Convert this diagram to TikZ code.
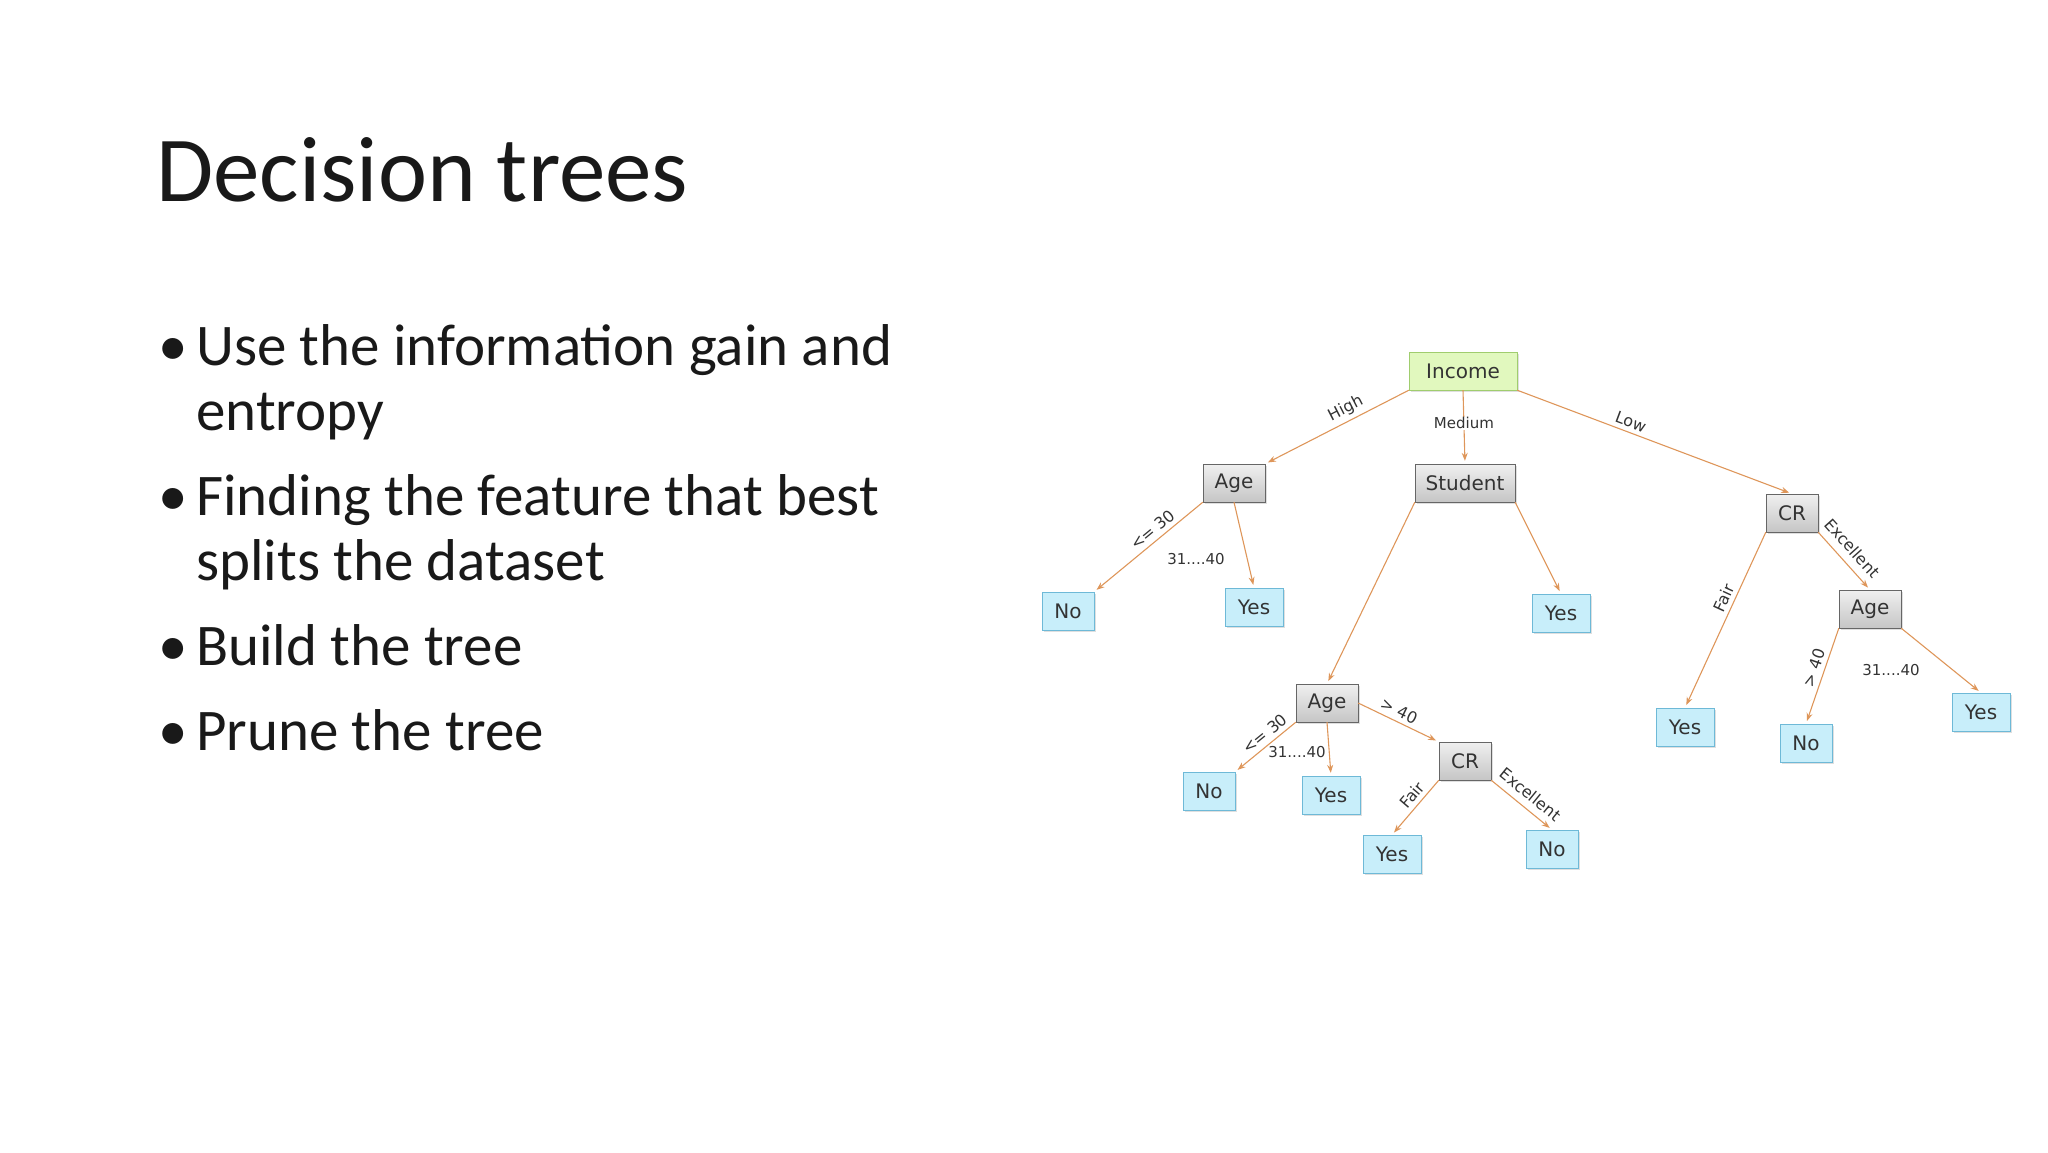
\documentclass[tikz,border=0pt]{standalone}
\usepackage{fontspec}
\setmainfont{Carlito}
\newfontfamily\vfont{DejaVu Sans}
\usetikzlibrary{arrows.meta,shadows}
\definecolor{edgec}{RGB}{222,150,90}
\definecolor{leaff}{RGB}{200,238,250}
\definecolor{leafd}{RGB}{110,185,215}
\definecolor{rootf}{RGB}{225,248,190}
\definecolor{rootd}{RGB}{160,205,110}
\tikzset{
  box/.style={draw, minimum height=38pt, inner sep=5pt, font=\vfont\fontsize{20}{22}\selectfont, text=black!80, drop shadow={shadow xshift=2pt,shadow yshift=-2pt,opacity=.25}},
  inner/.style={box, draw=black!60, top color=gray!12, bottom color=gray!45, minimum width=62pt},
  leaf/.style={box, draw=leafd, fill=leaff, minimum width=52pt},
  rootbox/.style={box, draw=rootd, fill=rootf, minimum width=108pt},
  edge/.style={draw=edgec, line width=1.1pt, -{Stealth[length=8pt,width=6pt]}, shorten >=3pt},
  el/.style={font=\vfont\fontsize{16}{18}\selectfont, text=black!80, sloped, above, inner sep=4pt},
  elf/.style={font=\vfont\fontsize{15}{17}\selectfont, text=black!80, inner sep=1pt},
  bul/.style={anchor=base west, inner sep=0pt}
}
\begin{document}
\begin{tikzpicture}[x=1pt,y=-1pt]
\useasboundingbox (0,0) rectangle (2048,1152);
\node[anchor=west, inner sep=0pt, font=\fontsize{93}{100}\selectfont, text=black!90] (title) at (156,170) {Decision trees};
\begin{scope}[font=\fontsize{59}{66}\selectfont, text=black!90]
\node[bul] (b1) at (158,365) {\textbullet};
\node[bul] (t1) at (196,365) {Use the information gain and};
\node[bul] (t1b) at (196,430) {entropy};
\node[bul] (b2) at (158,515) {\textbullet};
\node[bul] (t2) at (196,515) {Finding the feature that best};
\node[bul] (t2b) at (196,580) {splits the dataset};
\node[bul] (b3) at (158,665) {\textbullet};
\node[bul] (t3) at (196,665) {Build the tree};
\node[bul] (b4) at (158,750) {\textbullet};
\node[bul] (t4) at (196,750) {Prune the tree};
\end{scope}

\node[rootbox] (inc) at (1463,371) {Income};
\node[inner] (age1) at (1234,483) {Age};
\node[inner, minimum width=100pt] (stu) at (1465,483) {Student};
\node[inner, minimum width=52pt] (cr1) at (1792,513) {CR};
\node[leaf] (no1) at (1068,611) {No};
\node[leaf, minimum width=58pt] (yes1) at (1254,607) {Yes};
\node[leaf, minimum width=58pt] (yes2) at (1561,613) {Yes};
\node[inner] (age2) at (1327,703) {Age};
\node[inner, minimum width=52pt] (cr2) at (1465,761) {CR};
\node[leaf] (no2) at (1209,791) {No};
\node[leaf, minimum width=58pt] (yes3) at (1331,795) {Yes};
\node[leaf, minimum width=58pt] (yes4) at (1392,854) {Yes};
\node[leaf] (no3) at (1552,849) {No};
\node[inner] (age3) at (1870,609) {Age};
\node[leaf, minimum width=58pt] (yes5) at (1685,727) {Yes};
\node[leaf] (no4) at (1806,743) {No};
\node[leaf, minimum width=58pt] (yes6) at (1981,712) {Yes};

\draw[edge] (inc.south west) -- node[el, pos=.4] {High} (age1.north east);
\draw[edge] (inc.south) -- node[elf, fill=white, pos=.45] {Medium} (stu.north);
\draw[edge] (inc.south east) -- node[el, pos=.4] {Low} (cr1.north);
\draw[edge] (age1.south west) -- node[el, pos=.4] {<= 30} (no1.north east);
\draw[edge] (age1.south) -- (yes1.north);
\node[elf] (l1) at (1196,559) {31....40};
\draw[edge] (stu.south west) -- (age2.north);
\draw[edge] (stu.south east) -- (yes2.north);
\draw[edge] (cr1.south west) -- node[el, pos=.4] {Fair} (yes5.north);
\draw[edge] (cr1.south east) -- node[el, pos=.45, inner sep=8pt] {Excellent} (age3.north);
\draw[edge] (age3.south west) -- node[el, pos=.45] {> 40} (no4.north);
\draw[edge] (age3.south east) -- (yes6.north);
\node[elf] (l2) at (1891,670) {31....40};
\draw[edge] (age2.south west) -- node[el, pos=.4] {<= 30} (no2.north east);
\draw[edge] (age2.south) -- (yes3.north);
\node[elf] (l3) at (1297,752) {31....40};
\draw[edge] (age2.east) -- node[el, pos=.45] {> 40} (cr2.north west);
\draw[edge] (cr2.south west) -- node[el, pos=.4] {Fair} (yes4.north);
\draw[edge] (cr2.south east) -- node[el, pos=.5, inner sep=7pt] {Excellent} (no3.north);
\end{tikzpicture}
\end{document}
